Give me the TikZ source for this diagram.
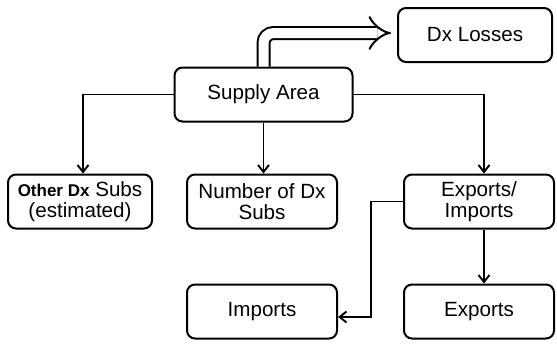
\documentclass[tikz,border=0pt]{standalone}
\usepackage{fontspec}
\setmainfont{Liberation Sans}
\usetikzlibrary{arrows.meta}
\usetikzlibrary{positioning}

\begin{document}
\begin{tikzpicture}[x=0.5pt,y=-0.5pt,
    box/.style={draw, line width=1pt, rounded corners=4pt, align=center,
      minimum width=75pt, minimum height=27pt, inner sep=1pt,
      font=\fontsize{10.3}{10.5}\selectfont},
    arr/.style={line width=0.95pt, -{Straight Barb[length=3.5pt,width=5.5pt]}},
  ]
  \useasboundingbox (0,0) rectangle (557,345);

  \node (loss) [box, minimum width=77pt] at (475, 35) {Dx Losses};
  \node (supply) [box, minimum width=89pt] at (263.5, 94.5) {Supply Area};
  \node (other) [box, minimum width=72pt] at (80, 201.5) {{\fontsize{8.5}{10}\selectfont\bfseries Other Dx} Subs\\(estimated)};
  \node (number) [box] at (262, 201.5) {Number of Dx\\Subs};
  \node (expimp) [box] at (479, 201.5) {Exports/\\Imports};
  \node (imports) [box] at (262, 311.5) {Imports};
  \node (exports) [box] at (479, 311.5) {Exports};

  % losses
  \draw [double, line width=1pt, double distance=5pt, rounded corners=5pt,
    -{Implies[length=5.5pt,width=11pt]}]
    (supply.north) |- ([xshift=-3pt, yshift=1pt]loss.west);

  % supply area
  \draw [arr] (supply.west) -| ([xshift=1.5pt]other.north);
  \draw [arr] (supply.south) -- (supply.south |- number.north);
  \draw [arr] (supply.east) -| ([xshift=2.5pt]expimp.north);

  % exports / imports
  \draw [arr] (expimp.west) -- ++(-32,0) |- ([yshift=-2.75pt]imports.east);
  \draw [arr] ([xshift=2.5pt]expimp.south) -- ([xshift=2.5pt]exports.north);
\end{tikzpicture}
\end{document}
